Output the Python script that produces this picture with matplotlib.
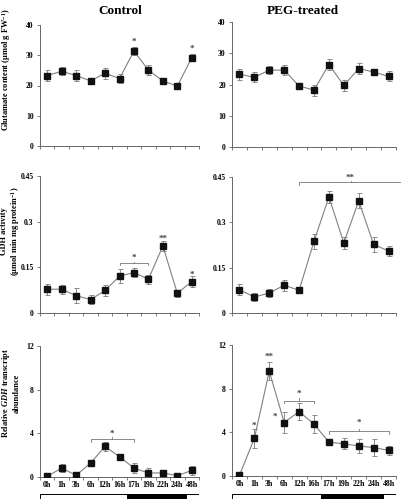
import matplotlib
matplotlib.use("Agg")
import matplotlib.pyplot as plt
import numpy as np

plt.rcParams["font.family"] = ["Liberation Serif", "DejaVu Serif"]
plt.rcParams["font.weight"] = "bold"
plt.rcParams["mathtext.fontset"] = "custom"
plt.rcParams["mathtext.rm"] = "Liberation Serif:bold"
plt.rcParams["mathtext.it"] = "Liberation Serif:bold:italic"
plt.rcParams["mathtext.bf"] = "Liberation Serif:bold"

hours = ["0h", "1h", "3h", "6h", "12h", "16h", "17h", "19h", "22h", "24h", "48h"]

# glutamate content
glu_ctrl = [23.3, 24.7, 23.3, 21.5, 24.1, 22.3, 31.4, 25.1, 21.5, 19.8, 29.2]
glu_ctrl_err = [1.9, 1.3, 1.9, 1.0, 1.8, 1.5, 1.2, 1.6, 0.8, 0.9, 1.2]
glu_peg = [23.3, 22.3, 24.6, 24.6, 19.5, 18.2, 26.4, 19.7, 25.1, 24.0, 22.6]
glu_peg_err = [1.8, 1.6, 1.3, 1.7, 1.0, 1.8, 1.8, 1.7, 1.7, 0.9, 1.6]

# GDH activity
gdh_ctrl = [0.078, 0.078, 0.057, 0.044, 0.074, 0.121, 0.133, 0.111, 0.220, 0.065, 0.103]
gdh_ctrl_err = [0.018, 0.015, 0.025, 0.016, 0.018, 0.022, 0.015, 0.015, 0.017, 0.012, 0.017]
gdh_peg = [0.077, 0.053, 0.066, 0.092, 0.075, 0.237, 0.384, 0.232, 0.371, 0.227, 0.205]
gdh_peg_err = [0.018, 0.014, 0.013, 0.018, 0.010, 0.025, 0.020, 0.020, 0.025, 0.025, 0.017]

# relative GDH transcript abundance
tr_ctrl = [0.06, 0.82, 0.15, 1.28, 2.80, 1.86, 0.82, 0.37, 0.37, 0.12, 0.60]
tr_ctrl_err = [0.05, 0.40, 0.08, 0.25, 0.45, 0.20, 0.45, 0.50, 0.15, 0.05, 0.40]
tr_peg = [0.06, 3.45, 9.60, 4.90, 5.90, 4.75, 3.10, 2.95, 2.75, 2.60, 2.35]
tr_peg_err = [0.05, 0.90, 0.80, 1.00, 0.75, 0.80, 0.30, 0.50, 0.65, 0.75, 0.40]

x = np.arange(len(hours))

fig = plt.figure(figsize=(4.01, 5.00), dpi=100)

W, H = 401.0, 500.0


def make_ax(left, top, right, bottom):
    return fig.add_axes([left / W, 1 - bottom / H, (right - left) / W, (bottom - top) / H])


def style(ax, vals, errs, ylim, yticks, yticklabels, show_x=False):
    ax.errorbar(x, vals, yerr=errs, color="#808080", lw=0.8, ecolor="#8a8a8a",
                elinewidth=0.7, capsize=1.8, capthick=0.7, marker="s", ms=3.9,
                mfc="#111111", mec="#111111", zorder=3)
    ax.set_xlim(-0.5, 10.5)
    ax.set_ylim(*ylim)
    ax.set_yticks(yticks)
    ax.set_yticklabels(yticklabels, fontsize=5.5, fontweight="bold")
    ax.set_xticks(x)
    ax.set_xticks(np.arange(-0.5, 11, 1), minor=True)
    ax.tick_params(axis="x", which="major", length=0, pad=3)
    ax.tick_params(axis="x", which="minor", length=2.5, width=0.6, color="#666666")
    ax.tick_params(axis="y", length=2.5, width=0.6, color="#666666", pad=2)
    if show_x:
        ax.set_xticklabels(hours, fontsize=5.7, fontweight="bold")
    else:
        ax.set_xticklabels([])
    for s in ["top", "right"]:
        ax.spines[s].set_visible(False)
    for s in ["left", "bottom"]:
        ax.spines[s].set_color("#666666")
        ax.spines[s].set_linewidth(0.7)


def bracket(ax, x0, x1, y, d, star, ys):
    xm = (x0 + x1) / 2
    ax.plot([x0, x0, x1, x1], [y - d, y, y, y - d], color="#777777", lw=0.6, clip_on=False)
    ax.plot([xm, xm], [y, y + d * 0.8], color="#777777", lw=0.6, clip_on=False)
    ax.text(xm, ys, star, ha="center", va="center", fontsize=6.5, color="#444444")


def star(ax, xp, yp, s):
    ax.text(xp, yp, s, ha="center", va="center", fontsize=6.5, color="#444444")


panels = [
    (40, 25, 199, 146, glu_ctrl, glu_ctrl_err, (0, 40), [0, 10, 20, 30, 40], ["0", "10", "20", "30", "40"], False),
    (232, 22, 396, 147, glu_peg, glu_peg_err, (0, 40), [0, 10, 20, 30, 40], ["0", "10", "20", "30", "40"], False),
    (40, 176, 199, 313, gdh_ctrl, gdh_ctrl_err, (0, 0.45), [0, 0.15, 0.3, 0.45], ["0", "0.15", "0.3", "0.45"], False),
    (232, 177, 396, 313, gdh_peg, gdh_peg_err, (0, 0.45), [0, 0.15, 0.3, 0.45], ["0", "0.15", "0.3", "0.45"], False),
    (40, 346, 199, 477, tr_ctrl, tr_ctrl_err, (0, 12), [0, 4, 8, 12], ["0", "4", "8", "12"], True),
    (232, 345, 396, 476, tr_peg, tr_peg_err, (0, 12), [0, 4, 8, 12], ["0", "4", "8", "12"], True),
]

axes = []
for l, t, r, b, v, e, yl, yt, ytl, sx in panels:
    ax = make_ax(l, t, r, b)
    style(ax, v, e, yl, yt, ytl, sx)
    axes.append(ax)

# significance marks
star(axes[0], 6, 34.3, "*")
star(axes[0], 10, 32.0, "*")

bracket(axes[2], 5, 7, 0.163, 0.006, "*", 0.182)
star(axes[2], 8, 0.243, "**")
star(axes[2], 10, 0.127, "*")

bracket(axes[3], 4, 10.9, 0.432, 0.008, "**", 0.447)

bracket(axes[4], 3, 6, 3.5, 0.25, "*", 4.0)

star(axes[5], 1, 4.6, "*")
star(axes[5], 2, 10.9, "**")
star(axes[5], 2.4, 5.4, "*")
bracket(axes[5], 3, 5, 6.9, 0.25, "*", 7.5)
bracket(axes[5], 6, 10, 4.1, 0.25, "*", 4.9)

# light / dark bars under bottom panels
for l, r in [(40, 199), (232, 396)]:
    bax = fig.add_axes([l / W, 1 - 499 / H, (r - l) / W, 5 / H])
    bax.set_xlim(-0.5, 10.5)
    bax.set_ylim(0, 1)
    bax.barh(0.5, 11, left=-0.5, height=1, color="white", edgecolor="black", lw=0.7)
    bax.barh(0.5, 4.1, left=5.5, height=1, color="black", edgecolor="black", lw=0.7)
    bax.axis("off")

# titles
fig.text(120 / W, 1 - 11 / H, "Control", ha="center", va="center", fontsize=9.5, fontweight="bold")
fig.text(303 / W, 1 - 11 / H, "PEG-treated", ha="center", va="center", fontsize=9.5, fontweight="bold")

# y labels
fig.text(7 / W, 1 - 70 / H, "Glutamate content (μmol g FW$^{-1}$)", rotation=90,
         ha="center", va="center", fontsize=6, fontweight="bold")
fig.text(11 / W, 1 - 231 / H, "GDH activity\n(μmol min mg protein$^{-1}$)", rotation=90,
         ha="center", va="center", fontsize=6, fontweight="bold", linespacing=1.1)
fig.text(10 / W, 1 - 393 / H, "Relative $GDH$ transcript\nabundance", rotation=90,
         ha="center", va="center", fontsize=6, fontweight="bold", linespacing=1.1)

fig.savefig("out.png", dpi=100)
